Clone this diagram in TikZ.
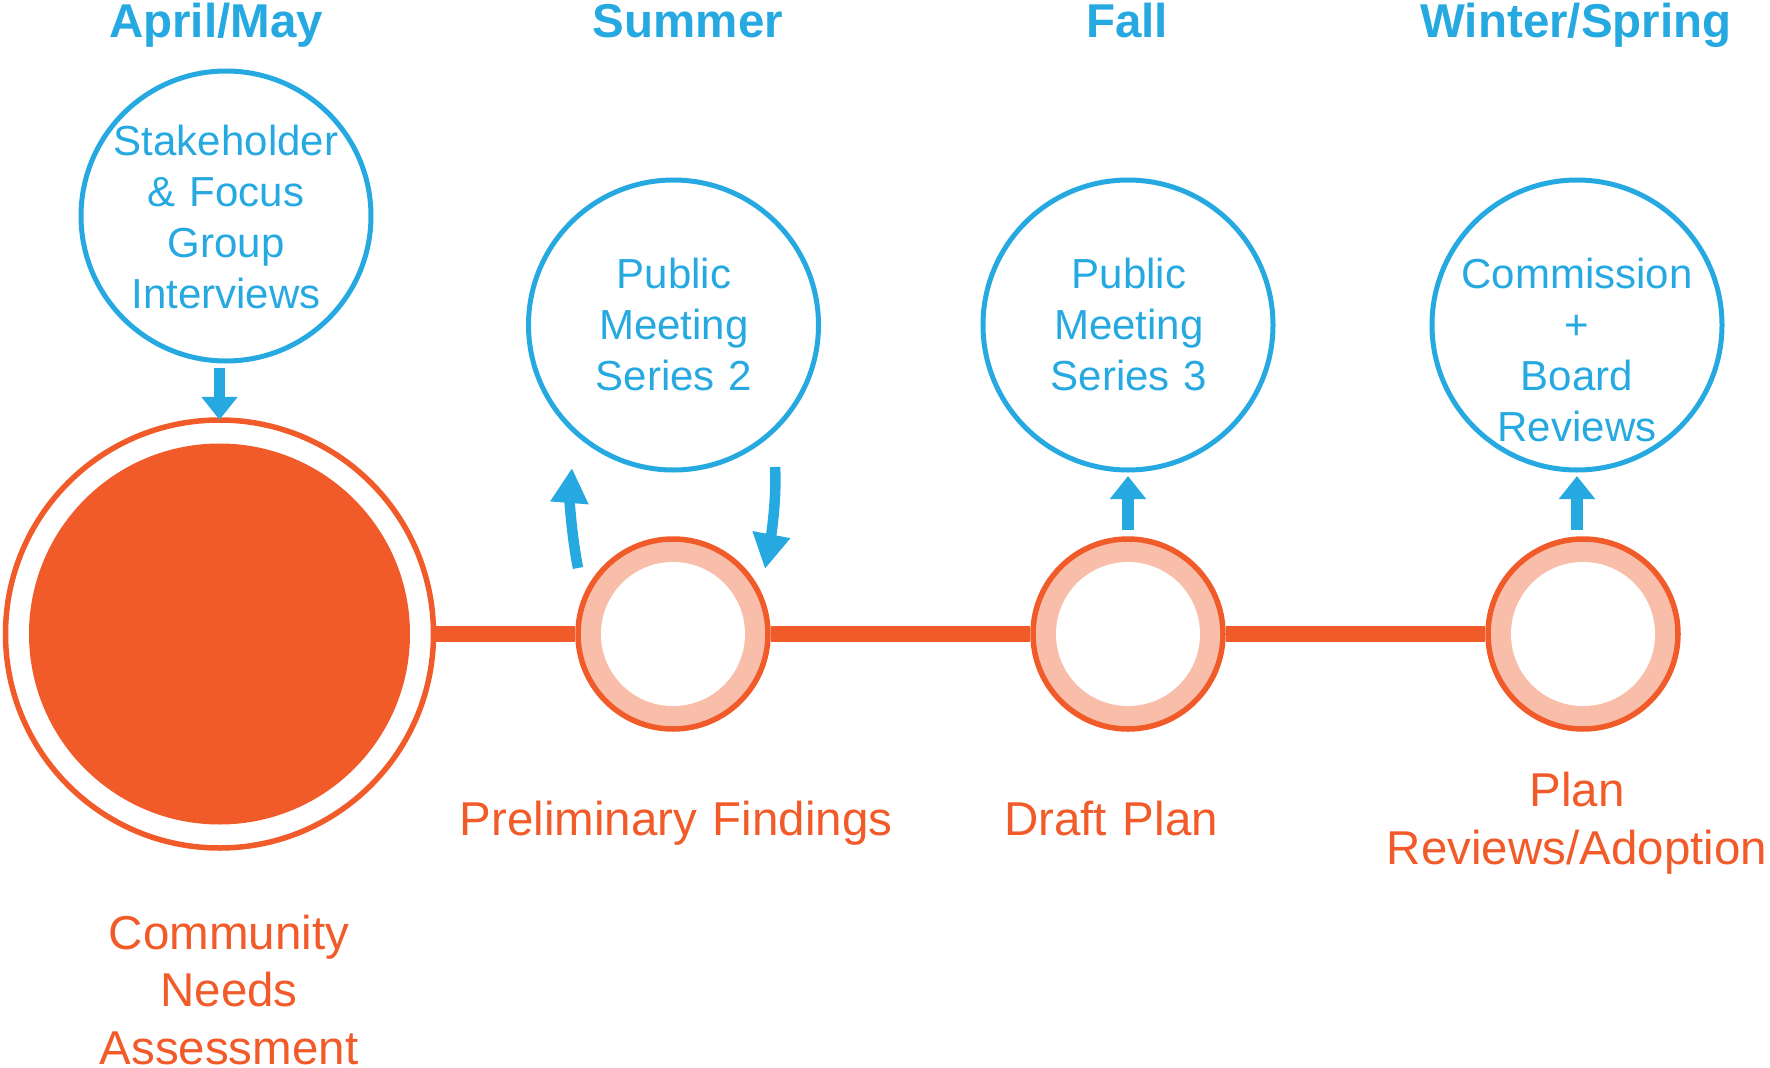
\documentclass[tikz,border=0pt]{standalone}
\usepackage{fontspec}
\setmainfont{Liberation Sans}
\usetikzlibrary{arrows.meta,calc}
\definecolor{cblue}{RGB}{38,169,225}
\definecolor{corange}{RGB}{241,90,41}
\definecolor{cpink}{RGB}{249,190,170}
\begin{document}
\begin{tikzpicture}[x=1pt,y=-1pt,
  heading/.style={font=\fontsize{47.5}{57}\selectfont\bfseries, text=cblue, anchor=base, inner sep=0},
  bluetext/.style={font=\fontsize{42}{51}\selectfont, text=cblue, align=center, text width=320pt, anchor=base, inner sep=0},
  orangetext/.style={font=\fontsize{47.5}{57.5}\selectfont, text=corange, align=center, text width=440pt, anchor=base, inner sep=0},
  bluecircle/.style={circle, draw=cblue, line width=5pt, minimum size=290pt, inner sep=0},
  milestone/.style={circle, draw=corange, fill=cpink, line width=5.5pt, minimum size=190pt, inner sep=0},
  hole/.style={circle, fill=white, minimum size=144pt, inner sep=0},
  bar/.style={draw=corange, line width=16.5pt},
  straightarrow/.style={draw=cblue, line width=11.5pt, -{Triangle[length=23pt,width=35pt]}},
  curvedarrow/.style={draw=cblue, line width=10.5pt, -{Triangle[length=35pt,width=36pt]}},
]
\useasboundingbox (0,0) rectangle (1770,1068);

% big milestone
\node[circle, draw=corange, line width=5.5pt, minimum size=428pt, inner sep=0] (ring) at (219.5,634) {};
\node[circle, fill=corange, minimum size=381pt, inner sep=0] (core) at (ring) {};

% small milestones
\node[milestone] (c2) at (673,634) {};
\node[hole] (h2) at (c2) {};
\node[milestone] (c3) at (1128,634) {};
\node[hole] (h3) at (c3) {};
\node[milestone] (c4) at (1583,634) {};
\node[hole] (h4) at (c4) {};

% timeline bars
\draw[bar] (ring.east) -- (c2.west);
\draw[bar] (c2.east) -- (c3.west);
\draw[bar] (c3.east) -- (c4.west);

% blue circles
\node[bluecircle] (s1) at (226,216) {};
\node[bluecircle] (p2) at (673.5,325) {};
\node[bluecircle] (p3) at (1128,325) {};
\node[bluecircle] (p4) at (1577,325) {};

% blue texts
\node[bluetext] (t1) at (226,155) {Stakeholder\\ \& Focus\\ Group\\ Interviews};
\node[bluetext] (t2) at (674,288) {Public\\ Meeting\\ Series 2};
\node[bluetext] (t3) at (1129,288) {Public\\ Meeting\\ Series 3};
\node[bluetext] (t4) at (1577,288) {Commission\\ +\\ Board\\ Reviews};

% headings
\node[heading] (h1) at (216,37.5) {April/May};
\node[heading] (hs) at (688,37.5) {Summer};
\node[heading] (hf) at (1127,37.5) {Fall};
\node[heading] (hw) at (1576,37.5) {Winter/Spring};

% orange labels
\node[orangetext] (l1) at (229,949) {Community\\ Needs\\ Assessment};
\node[orangetext] (l2) at (676,835) {Preliminary Findings};
\node[orangetext] (l3) at (1111,835) {Draft Plan};
\node[orangetext] (l4) at (1577,806.5) {Plan\\ Reviews/Adoption};

% arrows
\draw[straightarrow] ($(ring.north |- s1.south)+(0,4)$) -- ($(ring.north)+(0,2.5)$);
\draw[straightarrow] ($(c3.north)+(0,-6)$) -- ($(p3.south)+(0,3.5)$);
\draw[straightarrow] ($(p4.south |- c4.north)+(0,-6)$) -- ($(p4.south)+(0,3.5)$);
\draw[curvedarrow] ($(c2)+(-95,-66)$) .. controls ($(c2)+(-101,-96)$) and ($(p2)+(-104,176)$) .. ($(p2)+(-101.5,143)$);
\draw[curvedarrow] ($(p2)+(101.5,142)$) .. controls ($(p2)+(103.5,175)$) and ($(c2)+(97.5,-94.5)$) .. ($(c2)+(92,-65)$);
\end{tikzpicture}
\end{document}
